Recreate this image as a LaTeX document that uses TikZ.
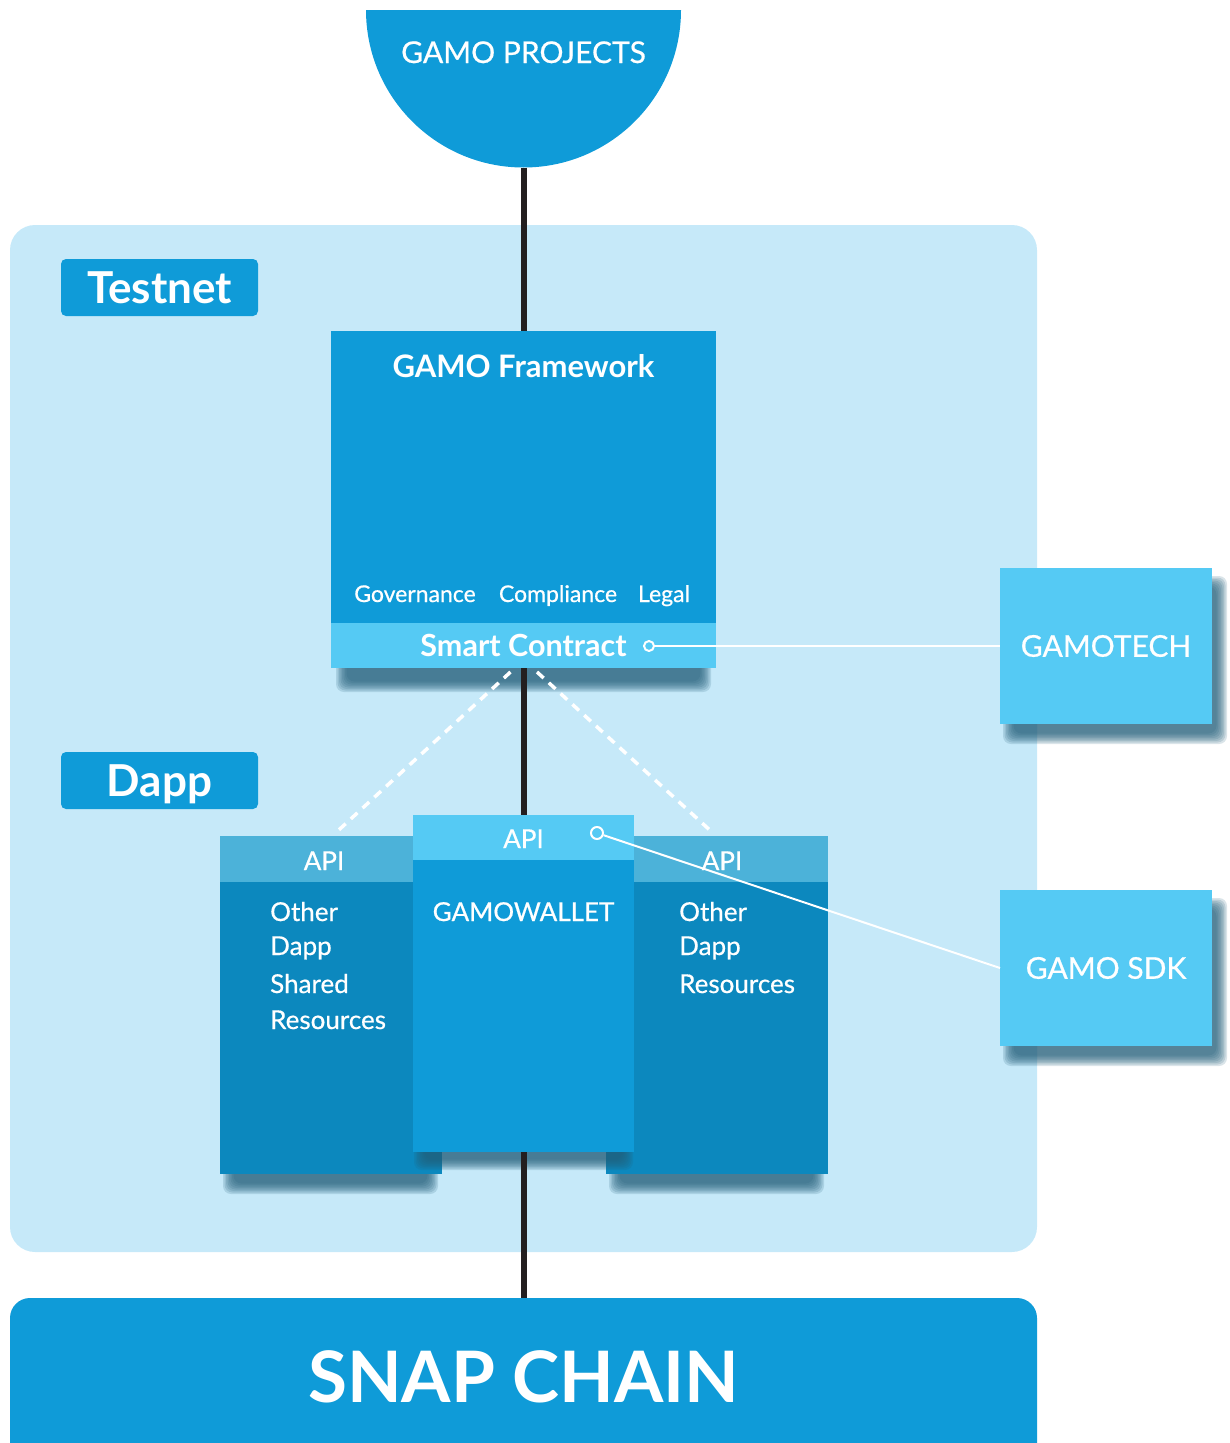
\documentclass[tikz,border=0pt]{standalone}
\usepackage{fontspec}
\setmainfont{Lato}
\newfontfamily\latomid{Lato}[FakeBold=0.6]

\definecolor{gamoblue}{HTML}{0F9BD8}
\definecolor{gamopale}{HTML}{C6E9F9}
\definecolor{gamolight}{HTML}{55CAF4}
\definecolor{gamodeep}{HTML}{0C88BE}
\definecolor{gamohead}{HTML}{4CB2D9}
\definecolor{gamoshade}{HTML}{235F7A}
\definecolor{gamoline}{HTML}{231F20}

\tikzset{
  box/.style={rectangle, inner sep=0pt, outer sep=0pt, anchor=north west},
  word/.style={text=white, inner sep=0pt, anchor=base},
  tag/.style={box, fill=gamoblue, rounded corners=5pt, minimum width=197pt,
    minimum height=57pt, text=white, text height=31pt, text depth=0pt,
    font=\fontsize{44}{44}\selectfont\bfseries},
  link/.style={draw=gamoline, line width=6pt},
  wire/.style={draw=white, line width=2pt},
  dots/.style={draw=white, line width=3.5pt, dash pattern=on 9pt off 7pt},
  knob/.style={circle, draw=white, fill=gamolight, line width=2pt,
    inner sep=0pt, minimum size=10pt},
}

% soft drop shadow: x1 y1 x2 y2
\newcommand{\dropshade}[4]{%
  \foreach \g in {0,1.5,...,10.5} {
    \fill[gamoshade, opacity=0.17, rounded corners=8pt] (#1+\g,#2+\g) rectangle (#3-\g,#4-\g);
  }}

\begin{document}
\begin{tikzpicture}
  \pgfsetxvec{\pgfpoint{1pt}{0}}
  \pgfsetyvec{\pgfpoint{0}{-1pt}}
  \useasboundingbox (0,0) rectangle (1230,1443);

  % testnet panel
  \fill[gamopale, rounded corners=25pt] (10,225) rectangle (1037,1252);
  \node[tag] (testnet) at (61,259) {Testnet};
  \node[tag] (dapp) at (61,752) {Dapp};

  % projects
  \begin{scope}
    \clip (0,10) rectangle (1230,200);
    \node[circle, fill=gamoblue, inner sep=0pt, outer sep=0pt, minimum size=315pt] (proj) at (523.5,10) {};
  \end{scope}
  \node[word, font=\fontsize{30}{30}\selectfont\latomid] (projtxt) at (523.5,63) {GAMO PROJECTS};

  % framework
  \dropshade{336}{636}{711}{692}
  \node[box, fill=gamoblue, minimum width=385pt, minimum height=337pt] (frame) at (331,331) {};
  \node[box, fill=gamolight, minimum width=385pt, minimum height=45pt] (contract) at (331,623) {};
  \node[word, font=\fontsize{31}{31}\selectfont\bfseries] (frametxt) at (523.5,377) {GAMO Framework};
  \foreach \nm/\x/\w in {gov/415/Governance, comp/558/Compliance, legal/664/Legal} {
    \node[word, font=\fontsize{23}{23}\selectfont\latomid] (\nm) at (\x,602) {\w};
  }
  \node[word, font=\fontsize{30.5}{30}\selectfont\bfseries] (contracttxt) at (523.5,656) {Smart Contract};
  \node[knob] (scknob) at (649,646) {};

  % side boxes
  \dropshade{1003}{576}{1227}{744}
  \node[box, fill=gamolight, minimum width=212pt, minimum height=156pt,
    text=white, font=\fontsize{30}{30}\selectfont\latomid] (tech) at (1000,568) {GAMOTECH};
  \dropshade{1003}{898}{1227}{1066}
  \node[box, fill=gamolight, minimum width=212pt, minimum height=156pt,
    text=white, font=\fontsize{30}{30}\selectfont\latomid] (sdk) at (1000,890) {GAMO SDK};

  % dapps
  \foreach \nm/\x/\ax in {dappL/220/324, dappR/606/722} {
    \dropshade{\x+3}{1148}{\x+218}{1194}
    \node[box, fill=gamodeep, minimum width=222pt, minimum height=338pt] (\nm) at (\x,836) {};
    \node[box, fill=gamohead, minimum width=222pt, minimum height=46pt] (\nm api) at (\x,836) {};
    \node[word, font=\fontsize{26}{26}\selectfont\latomid] (\nm apitxt) at (\ax,870) {API};
  }
  \foreach \w [count=\i] / \y in {Other/921, Dapp/955, Shared/993, Resources/1029} {
    \node[word, anchor=base west, font=\fontsize{26}{26}\selectfont\latomid] (lefttxt\i) at (270,\y) {\w};
  }
  \foreach \w [count=\i] / \y in {Other/921, Dapp/955, Resources/993} {
    \node[word, anchor=base west, font=\fontsize{26}{26}\selectfont\latomid] (righttxt\i) at (679,\y) {\w};
  }
  \dropshade{414}{1126}{633}{1170}
  \node[box, fill=gamoblue, minimum width=221pt, minimum height=337pt] (wallet) at (413,815) {};
  \node[box, fill=gamolight, minimum width=221pt, minimum height=45pt] (walletapi) at (413,815) {};
  \node[word, font=\fontsize{26}{26}\selectfont\latomid] (walletapitxt) at (523.5,848) {API};
  \node[word, font=\fontsize{26}{26}\selectfont\latomid] (wallettxt) at (523.5,921) {GAMOWALLET};
  \node[knob, minimum size=12pt] (apiknob) at (597,833) {};

  % chain
  \node[box, fill=gamoblue, rounded corners=20pt, minimum width=1027pt, minimum height=170pt] (snap) at (10,1298) {};
  \node[word, font=\fontsize{71}{71}\selectfont\bfseries] (snaptxt) at (523.5,1402) {SNAP CHAIN};

  % connectors
  \draw[link] (proj.south) -- (frame.north);
  \draw[link] (frame.south) -- (wallet.north);
  \draw[link] (wallet.south) -- (snap.north -| wallet.south);
  \draw[dots] ([xshift=-13pt, yshift=-4pt]frame.south) -- ([xshift=4.5pt, yshift=3pt]dappL.north);
  \draw[dots] ([xshift=13.5pt, yshift=-4pt]frame.south) -- ([xshift=-4pt, yshift=3pt]dappR.north);
  \draw[wire] (scknob) -- (tech.west);
  \draw[wire] (apiknob) -- (sdk.west);
\end{tikzpicture}
\end{document}
